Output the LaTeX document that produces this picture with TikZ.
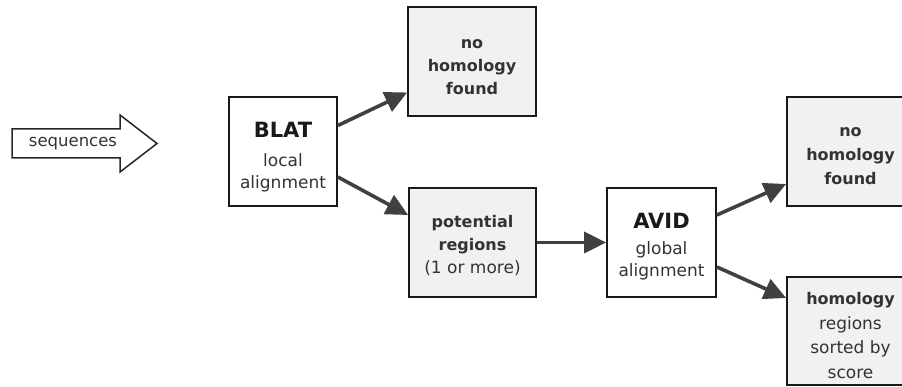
\documentclass[tikz,border=0pt]{standalone}
\usepackage{fontspec}
\setmainfont{DejaVu Sans}
\usetikzlibrary{arrows.meta}
\definecolor{txt}{HTML}{333333}
\definecolor{boxgray}{HTML}{F1F1F1}
\definecolor{arr}{HTML}{404040}
\tikzset{
  procbox/.style={draw=black!90, line width=1.8pt, fill=white, minimum height=109pt,
    inner sep=0pt},
  resbox/.style={procbox, fill=boxgray},
  boxtext/.style={align=center, text=txt, inner sep=0pt, font=\fontsize{17}{22}\selectfont},
  boldtext/.style={boxtext, font=\fontsize{16}{23}\selectfont\bfseries},
  flow/.style={draw=arr, line width=3.6pt, -{Triangle[length=22pt,width=21pt]}}
}
\newcommand{\ttl}[1]{{\fontsize{21}{26}\selectfont\bfseries\color{black!90}#1}}
\begin{document}
\begin{tikzpicture}[x=1pt,y=-1pt]
\useasboundingbox (0,0) rectangle (902,387);
\clip (0,0) rectangle (902,387);
% input arrow
\draw[line width=1.5pt, draw=black!85, fill=white]
  (12,129) -- (120,129) -- (120,115) -- (157,143.5) -- (120,172) -- (120,158) -- (12,158) -- cycle;
\node[text=txt, font=\fontsize{16.5}{18}\selectfont] (seq) at (73,143.5) {sequences};
% boxes
\node[procbox, minimum width=108pt] (blat) at (283,151.5) {};
\node[resbox, minimum width=128pt] (nh1) at (472,61.5) {};
\node[resbox, minimum width=127pt] (pot) at (472.5,242.5) {};
\node[procbox, minimum width=109pt] (avid) at (661.5,242.5) {};
\node[resbox, minimum width=127pt] (nh2) at (850.5,151.5) {};
\node[resbox, minimum width=127pt, minimum height=108pt] (hom) at (850.5,331) {};
% texts
\node[boxtext] (blat-t) at (283,157.5) {\ttl{BLAT}\\[7pt]local\\alignment};
\node[boldtext] (nh1-t) at (472,67) {no\\homology\\found};
\node[boxtext, font=\fontsize{17}{23}\selectfont] (pot-t) at (472.5,246)
  {\textbf{\fontsize{16}{23}\selectfont potential}\\\textbf{\fontsize{16}{23}\selectfont regions}\\(1 or more)};
\node[boxtext] (avid-t) at (661.5,246.5) {\ttl{AVID}\\[4pt]global\\alignment};
\node[boldtext, font=\fontsize{16}{24}\selectfont\bfseries] (nh2-t) at (850.5,156.5) {no\\homology\\found};
\node[boxtext, font=\fontsize{17}{24.5}\selectfont] (hom-t) at (850.5,335.5)
  {\textbf{\fontsize{16}{24.5}\selectfont homology}\\regions\\sorted by\\score};
% connectors
\draw[flow] ([yshift=26pt]blat.east) -- ([yshift=-31pt]nh1.west);
\draw[flow] ([yshift=-25.5pt]blat.east) -- ([yshift=27.5pt]pot.west);
\draw[flow] (pot.east) -- (avid.west);
\draw[flow] ([yshift=27.5pt]avid.east) -- ([yshift=-32.5pt]nh2.west);
\draw[flow] ([yshift=-24.5pt]avid.east) -- ([yshift=33pt]hom.west);
\end{tikzpicture}
\end{document}
